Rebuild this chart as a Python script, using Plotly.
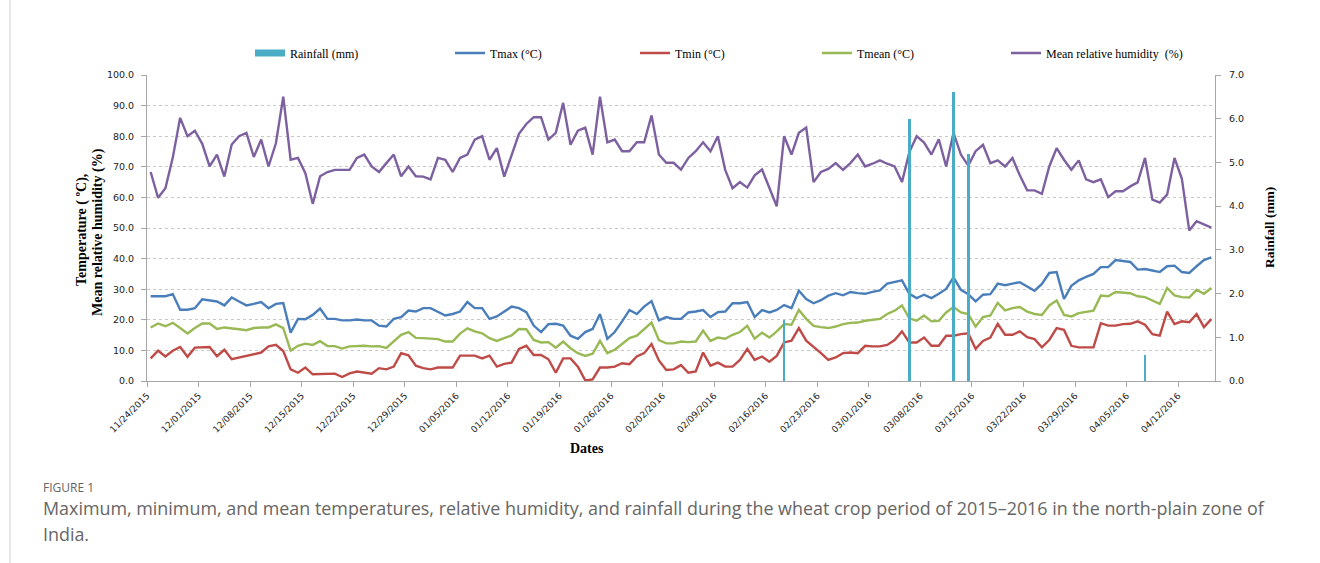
import pandas as pd
import plotly.graph_objects as go

# Daily weather record, 24 Nov 2015 - 16 Apr 2016
start_date = "2015-11-24"

tmax = [27.7, 27.7, 27.7, 28.4, 23.3, 23.3, 23.8, 26.7, 26.3, 26.0, 24.7, 27.3, 26.0, 24.7, 25.2,
        25.8, 23.8, 25.2, 25.5, 15.8, 20.3, 20.2, 21.6, 23.7, 20.3, 20.3, 19.8, 19.8, 20.1, 19.8,
        19.8, 18.1, 17.8, 20.3, 20.9, 23.0, 22.7, 23.8, 23.8, 22.7, 21.4, 21.9, 22.7, 25.8, 23.8,
        23.8, 20.3,
        21.1, 22.7, 24.3, 23.8, 22.5, 18.1, 16.0, 18.6, 18.7, 18.1, 14.8, 13.8, 16.0, 17.0, 21.9,
        13.8, 16.0, 19.5, 23.2, 21.9, 24.3, 26.1, 19.8, 20.9, 20.3, 20.3, 22.4, 22.7, 23.2, 20.9,
        22.5, 22.7, 25.4, 25.4, 25.8, 20.9, 23.2, 22.4, 23.2, 24.8, 23.8, 29.5, 26.8, 25.4, 26.4,
        27.9,
        28.7, 28.0, 29.1, 28.7, 28.5, 29.1, 29.6, 31.8, 32.3, 32.9, 28.5, 27.1, 28.2, 27.1, 28.5,
        30.1, 33.9, 29.8, 28.4, 26.0, 28.2, 28.4, 31.8, 31.3, 31.8, 32.3, 30.9, 29.5, 31.7, 35.3,
        35.6, 26.8, 31.1, 32.9, 34.0, 35.0, 37.2, 37.2, 39.5, 39.1, 38.9, 36.4, 36.6, 36.1, 35.6,
        37.5, 37.7, 35.6, 35.3, 37.5, 39.5, 40.4]

tmin = [7.4, 9.9, 8.0, 9.9, 11.1, 7.9, 10.9, 10.9, 11.1, 8.1, 10.2, 7.1, 7.7, 8.2, 8.7,
        9.3, 11.3, 11.8, 9.8, 3.8, 2.7, 4.4, 2.2, 2.2, 2.4, 2.4, 1.3, 2.5, 3.1, 2.8,
        2.4, 4.2, 3.8, 4.7, 9.1, 8.4, 5.0, 4.2, 3.8, 4.4, 4.4, 4.4, 8.3, 8.3, 8.3,
        7.4, 8.3,
        4.7, 5.6, 6.0, 10.5, 11.5, 8.5, 8.5, 7.1, 2.7, 7.4, 7.4, 4.7, 0.2, 0.5, 4.4,
        4.4, 4.7, 5.8, 5.5, 8.0, 9.1, 12.1, 6.7, 3.6, 3.8, 5.2, 2.7, 3.1, 9.3, 5.0,
        6.0, 4.7, 4.7, 6.9, 10.5, 6.9, 8.0, 6.3, 8.2, 12.6, 13.2, 17.3, 13.2, 11.3, 9.1,
        6.9,
        7.7, 9.1, 9.3, 9.1, 11.5, 11.3, 11.3, 11.8, 13.4, 16.2, 12.6, 12.6, 14.2, 11.5, 11.5,
        14.8, 14.8, 15.3, 15.6, 10.5, 13.1, 14.2, 18.7, 15.1, 15.1, 16.2, 14.3, 13.7, 11.0, 13.4,
        17.3, 16.7, 11.5, 11.0, 11.0, 11.0, 18.9, 18.1, 18.1, 18.6, 18.7, 19.5, 18.4, 15.3, 14.8,
        22.7, 18.6, 19.5, 19.2, 21.9, 17.6, 20.2]

tmean = [17.5, 18.8, 17.9, 19.0, 17.3, 15.5, 17.3, 18.8, 18.8, 17.0, 17.5, 17.3, 16.9, 16.6, 17.3,
         17.5, 17.5, 18.5, 17.3, 9.9, 11.5, 12.2, 11.8, 13.0, 11.4, 11.4, 10.6, 11.3, 11.5, 11.5,
         11.3, 11.4, 10.8, 12.9, 15.1, 16.0, 14.1, 14.0, 13.8, 13.7, 12.9, 12.9, 15.5, 17.2, 16.2,
         15.6, 14.0,
         13.1, 14.0, 14.9, 17.0, 16.9, 13.4, 12.6, 12.7, 10.9, 12.9, 10.7, 9.1, 8.2, 8.9, 13.1,
         9.1, 10.2, 12.1, 14.0, 14.8, 17.0, 19.1, 13.4, 12.3, 12.3, 12.9, 12.7, 12.9, 16.5, 13.1,
         14.2, 13.8, 15.1, 16.0, 18.0, 13.8, 15.8, 14.2, 16.2, 18.6, 18.4, 23.2, 20.3, 18.0, 17.6,
         17.3,
         17.8, 18.6, 19.0, 19.1, 19.7, 20.0, 20.3, 21.9, 23.0, 24.7, 20.5, 19.7, 21.4, 19.5, 19.7,
         22.4, 24.2, 22.4, 21.9, 17.8, 20.9, 21.4, 25.5, 23.1, 23.8, 24.2, 22.7, 21.9, 21.6, 24.7,
         26.3, 21.6, 21.1, 22.2, 22.5, 23.0, 27.9, 27.7, 29.1, 29.0, 28.7, 27.7, 27.4, 26.3, 25.2,
         30.4, 28.0, 27.4, 27.3, 29.8, 28.5, 30.4]

humidity = [68.3, 59.9, 63.0, 73.0, 86.0, 80.0, 81.8, 77.5, 70.1, 74.0, 66.8, 77.3, 80.0, 81.1, 73.2,
            78.9, 70.1, 77.7, 92.9, 72.3, 72.9, 67.9, 57.9, 66.9, 68.3, 69.0, 69.0, 69.0, 72.9, 74.0,
            70.1, 68.3, 71.2, 74.0, 66.9, 70.1, 66.9, 66.8, 65.9, 72.9,
            72.3, 68.3, 72.9, 74.0, 78.9, 80.0, 72.3, 76.1, 66.8, 74.0, 80.8, 84.0, 86.2, 86.2, 78.9,
            81.1, 90.9, 77.2, 81.8, 82.8, 74.0, 92.9, 78.0, 78.9, 75.1, 75.1, 78.0, 78.0, 86.8, 74.0,
            71.3, 71.3, 69.1, 72.9, 75.1, 78.0, 75.1, 80.0, 69.0, 63.0, 65.0, 63.2, 67.2, 69.1, 63.4,
            57.1, 80.0, 74.0, 81.1, 82.8, 65.0, 68.3, 69.3,
            71.2, 69.0, 71.2, 74.0, 70.1, 71.0, 72.1, 71.0, 70.1, 65.0, 74.8, 80.0, 77.9, 74.0, 79.0,
            70.1, 81.1, 74.0, 70.4, 75.1, 77.2, 71.2, 72.1, 70.1, 72.9, 67.2, 62.3, 62.3, 61.2, 70.1,
            76.1, 72.3, 69.0, 72.1, 65.9, 65.0, 65.9, 60.1, 62.0, 62.0, 63.6, 64.9, 72.9, 59.3, 58.3,
            60.9, 72.9, 66.1, 49.2, 52.2, 51.2, 50.1]

rain_dates = ["2016-02-18", "2016-03-06", "2016-03-12", "2016-03-14", "2016-04-07"]
rain_mm = [1.4, 6.0, 6.6, 5.2, 0.6]

tick_labels = ["11/24/2015", "12/01/2015", "12/08/2015", "12/15/2015", "12/22/2015",
               "12/29/2015", "01/05/2016", "01/12/2016", "01/19/2016", "01/26/2016",
               "02/02/2016", "02/09/2016", "02/16/2016", "02/23/2016", "03/01/2016",
               "03/08/2016", "03/15/2016", "03/22/2016", "03/29/2016", "04/05/2016",
               "04/12/2016"]

dates = pd.date_range(start_date, periods=len(tmax), freq="D")
half_day = pd.Timedelta(hours=12)
# each day occupies one slot; ticks sit on the slot boundaries
tick_vals = [d - half_day for d in pd.to_datetime(tick_labels, format="%m/%d/%Y")]
x_range = [dates[0] - half_day, dates[-1] + half_day]

BLUE = "#4A7EBB"
RED = "#BE4B48"
GREEN = "#98B954"
PURPLE = "#7D60A0"
AQUA = "#4BACC6"
SERIF = "Liberation Serif"

fig = go.Figure()
fig.add_trace(go.Bar(x=pd.to_datetime(rain_dates), y=rain_mm, name="Rainfall (mm)",
                     marker=dict(color=AQUA, line=dict(width=0)),
                     width=0.36 * 86400000, yaxis="y2", showlegend=False))
# legend key for the rainfall bars, drawn as a flat block
fig.add_trace(go.Scatter(x=[None], y=[None], name="Rainfall (mm)", mode="lines",
                         line=dict(color=AQUA, width=7), yaxis="y2", legend="legend"))
line_series = [("Tmax (°C)", tmax, BLUE, "legend2"),
               ("Tmin (°C)", tmin, RED, "legend3"),
               ("Tmean (°C)", tmean, GREEN, "legend4"),
               ("Mean relative humidity  (%)", humidity, PURPLE, "legend5")]
for name, vals, col, lg in line_series:
    fig.add_trace(go.Scatter(x=dates, y=vals, name=name, mode="lines",
                             line=dict(color=col, width=2.4), legend=lg))

L, R, T, B = 147, 1215, 75, 381
W, H = 1320, 563
pw, ph = R - L, B - T


def px(x):
    return (x - L) / pw


def py(y):
    return (B - y) / ph


legend_font = dict(family=SERIF, size=12, color="#000000")
legend_x = [250, 450, 635, 817, 1006]
legends = {}
for i, lx in enumerate(legend_x):
    key = "legend" if i == 0 else f"legend{i + 1}"
    legends[key] = dict(x=px(lx), y=py(53), xanchor="left", yanchor="middle",
                        orientation="h", font=legend_font, bgcolor="rgba(0,0,0,0)",
                        borderwidth=0, itemwidth=30)

axis_col = "#A6A6A6"
tick_font = dict(family="DejaVu Sans", size=9.5, color="#222222")
fig.update_layout(
    width=W, height=H,
    margin=dict(l=L, r=W - R, t=T, b=H - B),
    paper_bgcolor="white", plot_bgcolor="white",
    showlegend=True,
    bargap=0,
    xaxis=dict(type="date", range=x_range, tickvals=tick_vals, ticktext=tick_labels,
               tickangle=-45, showgrid=False, showline=True, linecolor=axis_col,
               linewidth=1, ticks="outside", ticklen=5, tickcolor=axis_col,
               tickfont=dict(family="DejaVu Sans", size=9, color="#222222"),
               zeroline=False),
    yaxis=dict(range=[0, 100], dtick=10, tickformat=".1f", showgrid=True,
               gridcolor="#C8C8C8", griddash="dot", gridwidth=1,
               showline=True, linecolor=axis_col, linewidth=1, ticks="outside",
               ticklen=5, tickcolor=axis_col, zeroline=False, tickfont=tick_font,
               ticklabelstandoff=5),
    yaxis2=dict(range=[0, 7], dtick=1, tickformat=".1f", overlaying="y", side="right",
                showgrid=False, showline=True, linecolor=axis_col, linewidth=1,
                ticks="outside", ticklen=5, tickcolor=axis_col, zeroline=False,
                ticklabelstandoff=6, tickfont=tick_font),
    **legends,
)

annotations = [
    dict(text="<b>Temperature ( ºC),</b>", x=px(82), y=py(230), textangle=-90, size=14),
    dict(text="<b>Mean relative humidity (%)</b>", x=px(98), y=py(232), textangle=-90, size=14),
    dict(text="<b>Rainfall (mm)</b>", x=px(1269), y=py(228), textangle=-90, size=13.5),
    dict(text="<b>Dates</b>", x=px(587), y=py(448), size=14),
]
for a in annotations:
    fig.add_annotation(text=a["text"], x=a["x"], y=a["y"], xref="paper", yref="paper",
                       showarrow=False, textangle=a.get("textangle", 0),
                       xanchor="center", yanchor="middle",
                       font=dict(family=SERIF, size=a.get("size", 13), color="#000000"))

caption_font = "Open Sans"
fig.add_annotation(text="FIGURE 1", x=px(41), y=py(487), xref="paper", yref="paper",
                   showarrow=False, xanchor="left", yanchor="middle",
                   font=dict(family=caption_font, size=12, color="#666666"))
fig.add_annotation(text="Maximum, minimum, and mean temperatures, relative humidity, and rainfall "
                        "during the wheat crop period of 2015\u20132016 in the north-plain zone of",
                   x=px(41), y=py(508), xref="paper", yref="paper", showarrow=False,
                   xanchor="left", yanchor="middle",
                   font=dict(family=caption_font, size=17.9, color="#666666"))
fig.add_annotation(text="India.", x=px(41), y=py(534), xref="paper", yref="paper",
                   showarrow=False, xanchor="left", yanchor="middle",
                   font=dict(family=caption_font, size=17.9, color="#666666"))

# thin page border on the left
fig.add_shape(type="line", xref="paper", yref="paper", x0=px(10), x1=px(10),
              y0=py(0), y1=py(H), line=dict(color="#D0D0D0", width=1))

fig.write_html("out.html")
